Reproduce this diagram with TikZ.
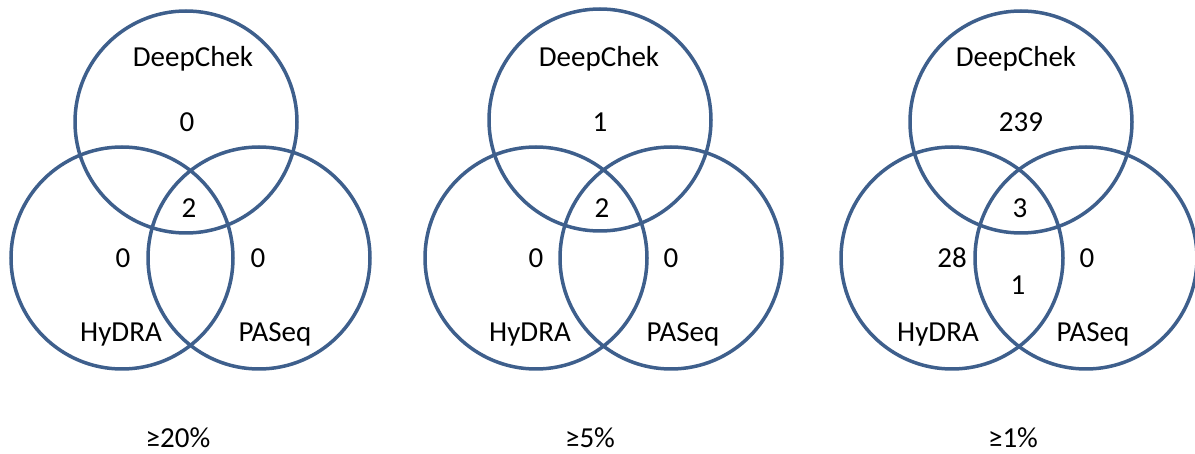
\documentclass[tikz,border=0pt]{standalone}
\usepackage{fontspec}
\setmainfont{Carlito}
\usetikzlibrary{positioning}
\definecolor{vennblue}{HTML}{3E5F8C}

\begin{document}
\begin{tikzpicture}[x=1pt, y=-1pt,
    venn/.style={circle, draw=vennblue, line width=3.5pt, minimum size=222pt, inner sep=0pt},
    setname/.style={anchor=base, inner sep=0pt, font=\fontsize{29}{32}\selectfont},
    count/.style={anchor=base, inner sep=0pt, font=\fontsize{29}{32}\selectfont},
    cutoff/.style={anchor=base, inner sep=0pt, font=\fontsize{29}{32}\selectfont},
]
\useasboundingbox (0,0) rectangle (1195,454);

% Cutoff 20%
\node[venn] (deepA) at (186,122) {};
\node[venn] (hydraA) at (122,258) {};
\node[venn] (paseqA) at (259,258) {};
\node[setname] (deepNameA) at (193,67) {DeepChek};
\node[setname] (hydraNameA) at (121,342) {HyDRA};
\node[setname] (paseqNameA) at (275,342) {PASeq};
\node[count] (deepOnlyA) at (187,132) {0};
\node[count] (allA) at (189,218) {2};
\node[count] (hydraOnlyA) at (123,268) {0};
\node[count] (paseqOnlyA) at (258,268) {0};
\node[cutoff] (cutA) at (178,447) {≥20\%};

% Cutoff 5%
\node[venn] (deepB) at (600,120) {};
\node[venn] (hydraB) at (536,258) {};
\node[venn] (paseqB) at (671,258) {};
\node[setname] (deepNameB) at (599,67) {DeepChek};
\node[setname] (hydraNameB) at (530,342) {HyDRA};
\node[setname] (paseqNameB) at (683,342) {PASeq};
\node[count] (deepOnlyB) at (600,132) {1};
\node[count] (allB) at (602,218) {2};
\node[count] (hydraOnlyB) at (536,268) {0};
\node[count] (paseqOnlyB) at (671,268) {0};
\node[cutoff] (cutB) at (590,447) {≥5\%};

% Cutoff 1%
\node[venn] (deepC) at (1021,122) {};
\node[venn] (hydraC) at (952,258) {};
\node[venn] (paseqC) at (1086,258) {};
\node[setname] (deepNameC) at (1016,67) {DeepChek};
\node[setname] (hydraNameC) at (938,342) {HyDRA};
\node[setname] (paseqNameC) at (1093,342) {PASeq};
\node[count] (deepOnlyC) at (1021,132) {239};
\node[count] (allC) at (1020,218) {3};
\node[count] (hydraOnlyC) at (952,268) {28};
\node[count] (paseqOnlyC) at (1087,268) {0};
\node[count] (hydraPaseqC) at (1018,295) {1};
\node[cutoff] (cutC) at (1013,447) {≥1\%};

\end{tikzpicture}
\end{document}
